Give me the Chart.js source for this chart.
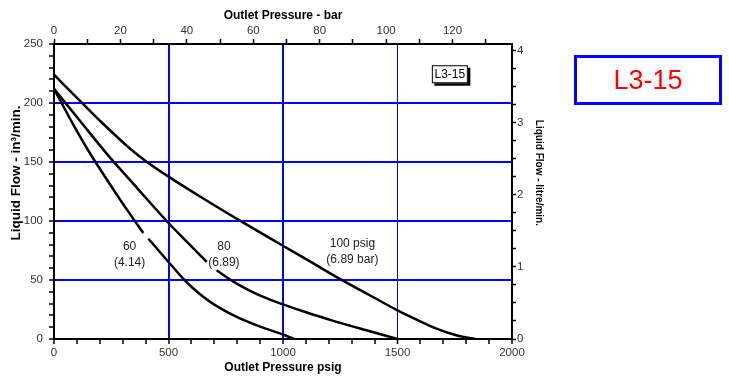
<!DOCTYPE html>
<html><head><meta charset="utf-8">
<script src="https://cdn.jsdelivr.net/npm/chart.js@4/dist/chart.umd.min.js"></script>
<style>
html,body{margin:0;padding:0;background:#fff;}
#wrap{position:relative;width:729px;height:380px;overflow:hidden;}
#c{position:absolute;left:0;top:0;}
#tag{position:absolute;left:574px;top:55px;width:142px;height:44px;border:3px solid #0000ff;color:#ff0000;
 font:27px "Liberation Sans",Arial,sans-serif;display:flex;align-items:center;justify-content:center;}
</style></head>
<body><div id="wrap"><canvas id="c" width="729" height="380"></canvas><div id="tag">L3-15</div></div>
<script>
// ---- data (outlet pressure psig -> liquid flow in^3/min) ----
const psig60  = [0, 80, 157, 250, 320, 390, 401, 412, 450, 500, 560, 600, 650, 709, 800, 900, 1000, 1048];
const flow60  = [212, 183.2, 157.4, 129.5, 109.2, 89.8, null, 85, 76.5, 65.3, 52.1, 44.3, 36.1, 28.1, 18.5, 10.5, 3.8, 0];
const psig80  = [0, 115, 230, 365, 500, 585, 667, 688, 710, 780, 850, 925, 1000, 1110, 1220, 1360, 1500];
const flow80  = [212, 184.5, 157.1, 127.5, 98.3, 81.5, 65.3, null, 58.2, 49.1, 41.5, 34.9, 29.3, 22, 15.4, 7.6, 0];
const psig100 = [0, 121, 200, 330, 400, 500, 650, 812, 1000, 1125, 1250, 1375, 1500, 1590, 1670, 1760, 1840];
const flow100 = [224, 200.3, 185.1, 161.7, 150.9, 137.6, 119.3, 100.3, 79, 64.9, 50.75, 37.5, 24.25, 15.8, 8.8, 3, 0];
const seriesLabels = [["60", "(4.14)"], ["80", "(6.89)"], ["100 psig", "(6.89 bar)"]];
const boxLabel = "L3-15";
const xTitle = "Outlet Pressure psig";
const x2Title = "Outlet Pressure - bar";
const yTitle = "Liquid Flow - in\u00B3/min.";
const y2Title = "Liquid Flow - litre/min.";
const PSI_PER_BAR = 14.5038;
const LITRE_PER_IN3 = 0.0163871;

const BLUE = '#0000ff';
const FONT = '"Liberation Sans", Arial, sans-serif';
const pts = (xs, ys) => xs.map((x, i) => ({x: x, y: ys[i]}));
const onStep = (v, s) => Math.abs(v / s - Math.round(v / s)) < 1e-6;

const lineDs = (label, xs, ys) => ({
  label, data: pts(xs, ys), borderColor: '#000', borderWidth: 2.5, pointRadius: 0,
  cubicInterpolationMode: 'monotone', fill: false, xAxisID: 'x', yAxisID: 'y'
});

const tickFont = {family: FONT, size: 11.5};
const titleFont = {family: FONT, size: 12, weight: 'bold'};

const annot = {
  id: 'annot',
  afterDatasetsDraw(chart) {
    const {ctx, scales: {x, y}} = chart;
    ctx.save();
    ctx.fillStyle = '#222';
    ctx.font = '12px ' + FONT;
    ctx.textAlign = 'center';
    ctx.textBaseline = 'middle';
    const lp = [[330, 78.5], [742, 78.5], [1303, 81]];
    seriesLabels.forEach((lines, i) => {
      const px = x.getPixelForValue(lp[i][0]);
      const py = y.getPixelForValue(lp[i][1]);
      lines.forEach((t, j) => ctx.fillText(t, px, py + j * 16.5));
    });
    // inner box with shadow
    const bx = x.getPixelForValue(1650), by = y.getPixelForValue(232);
    const bw = 36, bh = 18;
    ctx.fillStyle = '#000';
    ctx.fillRect(bx + 2.5, by + 2.5, bw, bh);
    ctx.fillStyle = '#fff';
    ctx.fillRect(bx, by, bw, bh);
    ctx.strokeStyle = '#000';
    ctx.lineWidth = 1;
    ctx.strokeRect(bx + 0.5, by + 0.5, bw - 1, bh - 1);
    ctx.fillStyle = '#000';
    ctx.font = '12px ' + FONT;
    ctx.fillText(boxLabel, bx + bw / 2, by + bh / 2 + 0.5);
    ctx.restore();
  },
  afterDraw(chart) {
    const {ctx, chartArea: ca} = chart;
    const cy = ca.top + (ca.bottom - ca.top) * 0.437;
    ctx.save();
    ctx.fillStyle = '#000';
    ctx.textAlign = 'center';
    ctx.textBaseline = 'middle';
    ctx.font = 'bold 13.5px ' + FONT;
    ctx.translate(16, cy);
    ctx.rotate(-Math.PI / 2);
    ctx.fillText(yTitle, 0, 0);
    ctx.restore();
    ctx.save();
    ctx.fillStyle = '#000';
    ctx.textAlign = 'center';
    ctx.textBaseline = 'middle';
    ctx.font = 'bold 10px ' + FONT;
    ctx.translate(539, cy);
    ctx.rotate(Math.PI / 2);
    ctx.fillText(y2Title, 0, 0);
    ctx.restore();
  }
};

new Chart(document.getElementById('c'), {
  type: 'line',
  data: {datasets: [lineDs('60', psig60, flow60), lineDs('80', psig80, flow80), lineDs('100', psig100, flow100)]},
  options: {
    responsive: false, animation: false, devicePixelRatio: 1,
    layout: {padding: {left: 0, top: 0, bottom: 0, right: 176}},
    plugins: {legend: {display: false}, tooltip: {enabled: false}},
    scales: {
      x: {
        type: 'linear', position: 'bottom', min: 0, max: 2000,
        ticks: {stepSize: 100, autoSkip: false, maxRotation: 0, includeBounds: false, color: '#333', font: tickFont, padding: 2,
          callback: v => onStep(v, 500) ? String(v) : ''},
        grid: {drawOnChartArea: true, tickLength: 5, tickWidth: 1.5, tickColor: '#000',
          color: c => (c.tick && (c.tick.value === 500 || c.tick.value === 1000 || c.tick.value === 1500)) ? BLUE : 'rgba(0,0,0,0)',
          lineWidth: c => (c.tick && c.tick.value === 1500) ? 1 : 2},
        border: {display: true, color: '#000', width: 2},
        title: {display: true, text: xTitle, color: '#000', font: titleFont, padding: {top: 0, bottom: 5}},
        afterFit: s => { s.height = 41; }
      },
      x2: {
        type: 'linear', position: 'top', min: 0, max: 2000 / PSI_PER_BAR,
        ticks: {stepSize: 10, autoSkip: false, maxRotation: 0, includeBounds: false, color: '#333', font: tickFont, padding: 1,
          callback: v => onStep(v, 20) ? String(v) : ''},
        grid: {drawOnChartArea: false, tickLength: 5, tickWidth: 1.5,
          tickColor: c => (c.tick && onStep(c.tick.value, 10)) ? '#000' : 'rgba(0,0,0,0)'},
        border: {display: true, color: '#000', width: 2},
        title: {display: true, text: x2Title, color: '#000', font: titleFont, padding: {top: 8, bottom: 0}},
        afterFit: s => { s.height = 44; }
      },
      y: {
        type: 'linear', position: 'left', min: 0, max: 250,
        ticks: {stepSize: 10, autoSkip: false, includeBounds: false, color: '#333', font: tickFont, padding: 6,
          callback: v => onStep(v, 50) ? String(v) : ''},
        grid: {drawOnChartArea: true, tickLength: 5, tickWidth: 1.5, tickColor: '#000',
          color: c => (c.tick && c.tick.value > 0 && c.tick.value < 250 && onStep(c.tick.value, 50)) ? BLUE : 'rgba(0,0,0,0)',
          lineWidth: 2},
        border: {display: true, color: '#000', width: 2},
        afterFit: s => { s.width = 54; }
      },
      y2: {
        type: 'linear', position: 'right', min: 0, max: 250 * LITRE_PER_IN3,
        ticks: {stepSize: 0.25, autoSkip: false, includeBounds: false, color: '#333', font: tickFont, padding: 1,
          callback: v => onStep(v, 1) ? String(Math.round(v)) : ''},
        grid: {drawOnChartArea: false, tickLength: 4, tickWidth: 1.5,
          tickColor: c => (c.tick && onStep(c.tick.value, 0.25)) ? '#000' : 'rgba(0,0,0,0)'},
        border: {display: true, color: '#000', width: 2},
        afterFit: s => { s.width = 41; }
      }
    }
  },
  plugins: [annot]
});
</script>
</body></html>
